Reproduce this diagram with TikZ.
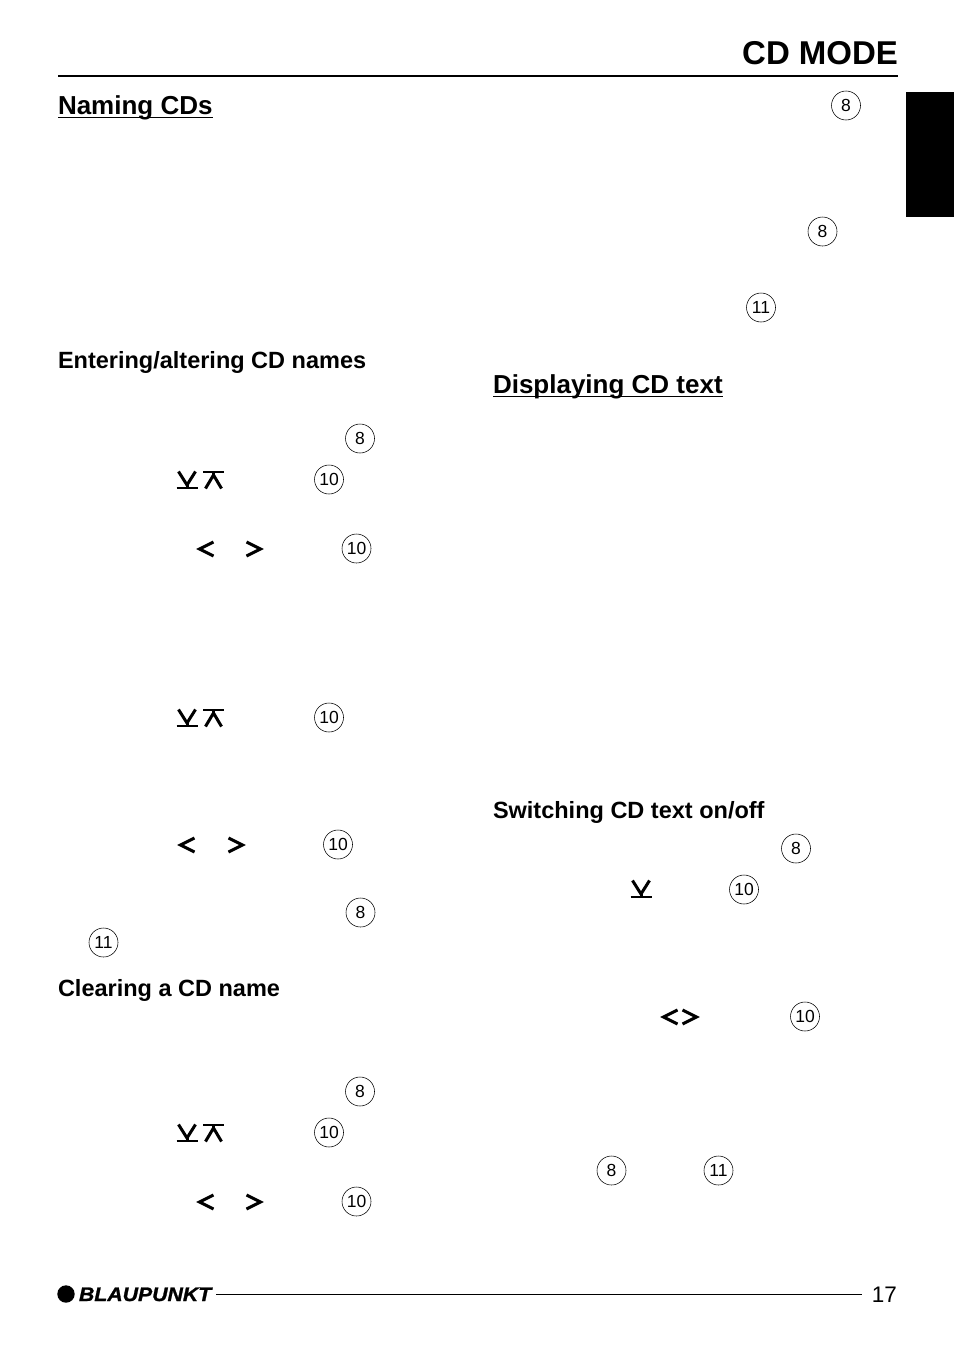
\documentclass[tikz,border=0pt]{standalone}
\usepackage{fontspec}
\setmainfont{Liberation Sans}
\newfontfamily\headfont{Liberation Sans Bold}
\newfontfamily\medfont{Liberation Sans Bold}
\newfontfamily\titlefont{Liberation Sans Bold}
\newfontfamily\logofont[FakeBold=1.2,FakeStretch=1.09]{Liberation Sans Bold Italic}
\tikzset{
  txt/.style={inner sep=0pt,outer sep=0pt,text=black},
  heading/.style={txt,anchor=base west,font=\headfont\fontsize{26}{30}\selectfont},
  subhead/.style={txt,anchor=base west,font=\medfont\fontsize{23.5}{27}\selectfont},
  callout/.style={circle,draw=black,line width=0.55pt,minimum size=29pt,inner sep=0pt,font=\fontsize{17.5}{20}\selectfont,text=black},
  glyph/.style={line width=3pt,draw=black,line join=miter},
  thinbar/.style={line width=2.2pt,draw=black}
}
% button glyphs, positioned by their centre
\newcommand{\btndown}[2]{\begin{scope}[shift={(#1,#2)}]
  \draw[glyph] (-8.5,-8.5) -- (0,5) -- (8.5,-8.5);
  \draw[glyph] (0,5) -- (0,8);
  \draw[thinbar] (-10.5,8) -- (10.5,8);
\end{scope}}
\newcommand{\btnup}[2]{\begin{scope}[shift={(#1,#2)}]
  \draw[glyph] (-8,8.5) -- (0,-5) -- (8,8.5);
  \draw[glyph] (0,-5) -- (0,-8);
  \draw[thinbar] (-10.5,-8) -- (10.5,-8);
\end{scope}}
\newcommand{\btnleft}[2]{\begin{scope}[shift={(#1,#2)}]
  \draw[line width=3pt,draw=black,line join=miter] (8.5,-7) -- (-5.5,0) -- (8.5,7);
\end{scope}}
\newcommand{\btnright}[2]{\begin{scope}[shift={(#1,#2)}]
  \draw[line width=3pt,draw=black,line join=miter] (-8.5,-7) -- (5.5,0) -- (-8.5,7);
\end{scope}}
\begin{document}
\begin{tikzpicture}[x=1pt,y=-1pt]
\useasboundingbox (0,0) rectangle (954,1349);
\fill[white] (0,0) rectangle (954,1349);
% header
\node[txt,anchor=base east,font=\titlefont\fontsize{33}{36}\selectfont] (title) at (898,64) {CD MODE};
\draw[line width=2pt] (58,75.5) -- (898,75.5);
\fill[black] (906,92) rectangle (954,217);
% headings
\node[heading] (h1) at (58,114) {Naming CDs};
\draw[line width=1.5pt] ([yshift=-3.5pt]h1.base west) -- ([yshift=-3.5pt]h1.base east);
\node[heading] (h2) at (493,393) {Displaying CD text};
\draw[line width=1.5pt] ([yshift=-3.5pt]h2.base west) -- ([yshift=-3.5pt]h2.base east);
\node[subhead] (s1) at (58,368) {Entering/altering CD names};
\node[subhead] (s2) at (58,996) {Clearing a CD name};
\node[subhead] (s3) at (493,818) {Switching CD text on/off};
% callouts
\node[callout] (c1) at (846,105.5) {8};
\node[callout] (c2) at (822.5,231.5) {8};
\node[callout] (c3) at (761,307.5) {11};
\node[callout] (c4) at (360,438.5) {8};
\node[callout] (c5) at (329,479.5) {10};
\node[callout] (c6) at (356.5,548.5) {10};
\node[callout] (c7) at (329,717.5) {10};
\node[callout] (c8) at (338,844.5) {10};
\node[callout] (c9) at (360.5,912.5) {8};
\node[callout] (c10) at (103.5,942.5) {11};
\node[callout] (c11) at (360,1091.5) {8};
\node[callout] (c12) at (329,1132.5) {10};
\node[callout] (c13) at (356.5,1201.5) {10};
\node[callout] (c14) at (796,848.5) {8};
\node[callout] (c15) at (744,889.5) {10};
\node[callout] (c16) at (805,1016.5) {10};
\node[callout] (c17) at (611.5,1170.5) {8};
\node[callout] (c18) at (718.5,1170.5) {11};
% button glyphs
\btndown{187}{480}\btnup{213.5}{480}
\btndown{187}{718}\btnup{213.5}{718}
\btndown{187}{1133}\btnup{213.5}{1133}
\btndown{641}{889}
\btnleft{205}{549}\btnright{255}{549}
\btnleft{186}{845}\btnright{237}{845}
\btnleft{205}{1202}\btnright{255}{1202}
\btnleft{669}{1017}\btnright{691}{1017}
% footer
\fill[black] (66,1294) circle (8.7);
\node[txt,anchor=base west,font=\logofont\fontsize{19.5}{22}\selectfont] (logo) at (79,1301) {BLAUPUNKT};
\node[txt,anchor=base east,font=\fontsize{22.5}{25}\selectfont] (page) at (897,1302) {17};
\draw[line width=1.6pt] (216,1294.5) -- (862,1294.5);
\end{tikzpicture}
\end{document}
